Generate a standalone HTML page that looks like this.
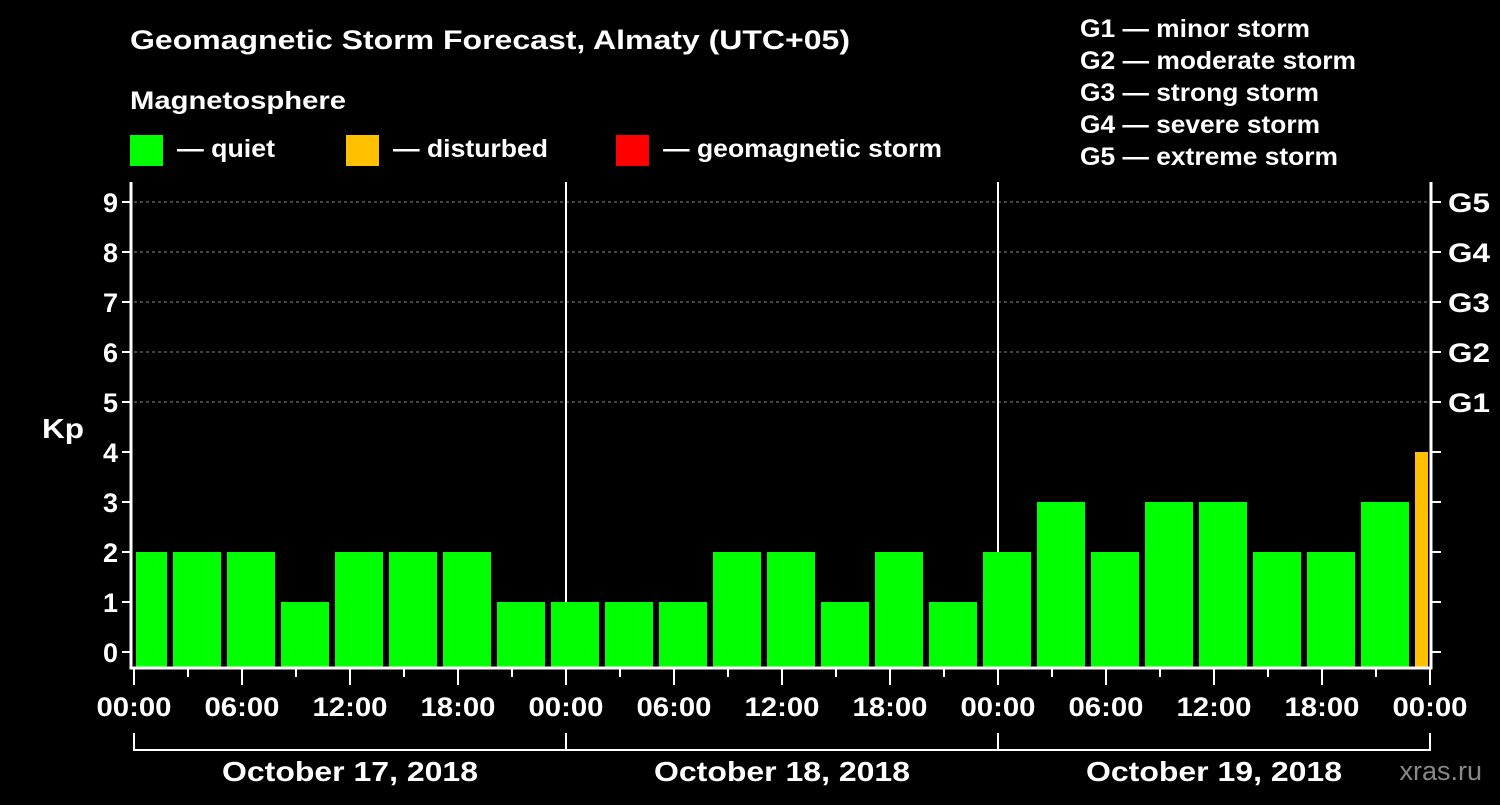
<!DOCTYPE html>
<html><head><meta charset="utf-8"><style>
body{margin:0;background:#000;width:1500px;height:800px;overflow:hidden}
svg text{font-family:"Liberation Sans",sans-serif;font-weight:bold;fill:#fff}
</style></head><body>
<svg id="chart" width="1500" height="800">
<text x="130" y="49" font-size="27" textLength="720" lengthAdjust="spacingAndGlyphs">Geomagnetic Storm Forecast, Almaty (UTC+05)</text>
<text x="130" y="109" font-size="25" textLength="216" lengthAdjust="spacingAndGlyphs">Magnetosphere</text>
<g><rect x="130" y="135" width="33" height="31" fill="#00ff00"/><text x="177" y="157" font-size="25" textLength="98" lengthAdjust="spacingAndGlyphs">— quiet</text></g>
<g><rect x="346" y="135" width="33" height="31" fill="#ffc000"/><text x="393" y="157" font-size="25" textLength="155" lengthAdjust="spacingAndGlyphs">— disturbed</text></g>
<g><rect x="616" y="135" width="33" height="31" fill="#ff0000"/><text x="663" y="157" font-size="25" textLength="279" lengthAdjust="spacingAndGlyphs">— geomagnetic storm</text></g>
<g font-size="25">
<text x="1080" y="37" textLength="230" lengthAdjust="spacingAndGlyphs">G1 — minor storm</text>
<text x="1080" y="69" textLength="276" lengthAdjust="spacingAndGlyphs">G2 — moderate storm</text>
<text x="1080" y="101" textLength="239" lengthAdjust="spacingAndGlyphs">G3 — strong storm</text>
<text x="1080" y="133" textLength="240" lengthAdjust="spacingAndGlyphs">G4 — severe storm</text>
<text x="1080" y="165" textLength="258" lengthAdjust="spacingAndGlyphs">G5 — extreme storm</text>
</g>
<text x="42" y="438" font-size="28" textLength="42" lengthAdjust="spacingAndGlyphs">Kp</text>
<text x="1482" y="780" font-size="27" text-anchor="end" style="fill:#888;font-weight:normal">xras.ru</text>
<g id="plot"></g>
</svg>
<script>
const kpValues=[2,2,2,1,2,2,2,1,1,1,1,2,2,1,2,1,2,3,2,3,3,2,2,3,4];
const yTicks=[0,1,2,3,4,5,6,7,8,9];
const gLabels=["G1","G2","G3","G4","G5"];
const gLevels=[5,6,7,8,9];
const hourLabels=["00:00","06:00","12:00","18:00"];
const dayLabels=["October 17, 2018","October 18, 2018","October 19, 2018"];
const NS="http://www.w3.org/2000/svg";
const X0=134,X1=1431,Y0=668;
const xh=h=>X0+h*18;
const yv=v=>652-v*50;
const g=document.getElementById('plot');
function mk(t,a){const e=document.createElementNS(NS,t);for(const k in a)e.setAttribute(k,a[k]);g.appendChild(e);return e;}
gLevels.forEach(v=>{const l=mk('line',{x1:X0,x2:X1,y1:yv(v),y2:yv(v),stroke:'#888','stroke-dasharray':'3,3','stroke-width':1});

});
for(let d=1;d<3;d++){const l=mk('line',{x1:xh(d*24),x2:xh(d*24),y1:182,y2:Y0,stroke:'#fff','stroke-width':2});

}
kpValues.forEach((v,i)=>{
 let s=xh(-1+3*i)+3,e=xh(2+3*i)-3;
 s=Math.max(s,X0+2);e=Math.min(e,X1-3);
 const r=mk('rect',{x:s,y:yv(v),width:e-s,height:Y0-yv(v),fill:v>=5?'#ff0000':(v>=4?'#ffc000':'#00ff00')});
 
 
});
mk('path',{d:`M${X0-3},182 V${Y0} H${X1} V182`,fill:'none',stroke:'#fff','stroke-width':3});
yTicks.forEach(v=>{
 mk('line',{x1:X0-12,x2:X0-3,y1:yv(v),y2:yv(v),stroke:'#fff','stroke-width':2});
 mk('line',{x1:X1,x2:X1+10,y1:yv(v),y2:yv(v),stroke:'#fff','stroke-width':2});
 const t=mk('text',{x:X0-16,y:yv(v)+10,'font-size':27,'text-anchor':'end'});t.textContent=v;
 
 
});
gLevels.forEach((v,i)=>{const t=mk('text',{x:1448,y:yv(v)+10,'font-size':27,textLength:42,lengthAdjust:'spacingAndGlyphs'});t.textContent=gLabels[i];
 
 });
for(let h=0;h<=72;h+=3){const major=h%6===0;
 mk('line',{x1:xh(h),x2:xh(h),y1:Y0,y2:Y0+(major?17:9),stroke:'#fff','stroke-width':2});
 if(major){const t=mk('text',{x:xh(h),y:716,'font-size':27,'text-anchor':'middle',textLength:75,lengthAdjust:'spacingAndGlyphs'});t.textContent=hourLabels[(h/6)%4];
 
 }
}
mk('path',{d:`M${xh(0)},733 V750 H${xh(72)} V733 M${xh(24)},733 V750 M${xh(48)},733 V750`,fill:'none',stroke:'#fff','stroke-width':2});
dayLabels.forEach((d,i)=>{const t=mk('text',{x:xh(i*24+12),y:781,'font-size':28,'text-anchor':'middle',textLength:256,lengthAdjust:'spacingAndGlyphs'});t.textContent=d;
 
 });
</script>
</body></html>
